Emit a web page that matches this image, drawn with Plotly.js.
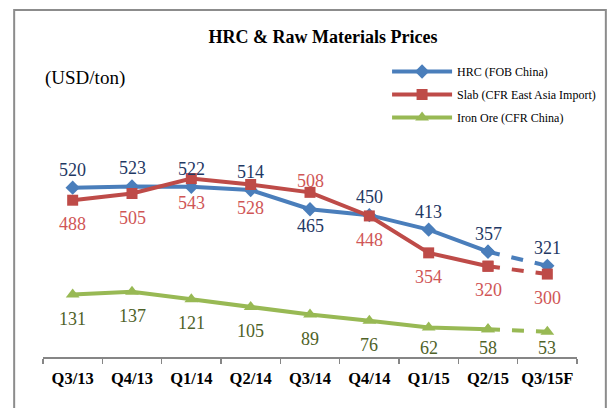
<!DOCTYPE html>
<html>
<head>
<meta charset="utf-8">
<script src="https://cdn.plot.ly/plotly-3.0.1.min.js"></script>
<style>html,body{margin:0;padding:0;background:#fff;}#chart{width:613px;height:408px;}</style>
</head>
<body>
<div id="chart"></div>
<script>
// ---- data ----
const quarters = ["Q3/13","Q4/13","Q1/14","Q2/14","Q3/14","Q4/14","Q1/15","Q2/15","Q3/15F"];
const hrc      = [520, 523, 522, 514, 465, 450, 413, 357, 321];
const slab     = [488, 505, 543, 528, 508, 448, 354, 320, 300];
const ironOre  = [131, 137, 121, 105, 89, 76, 62, 58, 53];
const seriesNames = ["HRC (FOB China)", "Slab (CFR East Asia Import)", "Iron Ore (CFR China)"];
const forecastFrom = 7; // index where the dashed forecast segment starts

// ---- layout geometry ----
const W = 613, H = 408;
const M = {l: 43, r: 33, t: 100, b: 51};
const plotH = H - M.t - M.b;
const y1Range = [89, 743];
const y2Range = [0, 539];
const font = "Liberation Serif, Times New Roman, serif";

const colors = {hrc: "#4A7EBB", slab: "#BE4B48", ore: "#98B954"};
const labelColors = {hrc: "#1F3864", slab: "#D05656", ore: "#4F6228"};

function pxPerUnit(r){ return plotH / (r[1] - r[0]); }
function valToPx(v, r){ return M.t + plotH - (v - r[0]) * pxPerUnit(r); }

function makeTraces(vals, name, color, symbol, size, axis, group){
  const solidX = quarters.slice(0, forecastFrom + 1);
  const solidY = vals.slice(0, forecastFrom + 1);
  const dashX = quarters.slice(forecastFrom);
  const dashY = vals.slice(forecastFrom);
  return [
    {x: solidX, y: solidY, name: name, type: "scatter", mode: "lines+markers",
     yaxis: axis, legendgroup: group, showlegend: true,
     line: {color: color, width: 4}, marker: {symbol: symbol, size: size, color: color},
     hoverinfo: "skip"},
    {x: dashX, y: dashY, name: name, type: "scatter", mode: "lines+markers",
     yaxis: axis, legendgroup: group, showlegend: false,
     line: {color: color, width: 4, dash: "dash"}, marker: {symbol: symbol, size: size, color: color},
     hoverinfo: "skip"}
  ];
}

const traces = [].concat(
  makeTraces(hrc, seriesNames[0], colors.hrc, "diamond", 11, "y", "g1"),
  makeTraces(slab, seriesNames[1], colors.slab, "square", 11, "y", "g2"),
  makeTraces(ironOre, seriesNames[2], colors.ore, "triangle-up", 12, "y2", "g3")
);

// ---- data labels ----
const annotations = [];
function addLabel(x, v, yref, color, shift){
  annotations.push({x: x, y: v, xref: "x", yref: yref, text: String(v), showarrow: false,
    font: {family: font, size: 18, color: color}, yshift: shift, xanchor: "center", yanchor: "middle"});
}
quarters.forEach((q, i) => {
  // HRC labels above, slab below, except at Q3/14 where the slab line sits above HRC
  const swap = (slab[i] > hrc[i]) && (i === 4);
  addLabel(q, hrc[i], "y", labelColors.hrc, swap ? -17 : 18);
  addLabel(q, slab[i], "y", labelColors.slab, swap ? 11 : -24);
  // iron ore labels below, kept inside the plot area
  const mk = valToPx(ironOre[i], y2Range);
  const labelPx = Math.min(mk + 24, 348);
  addLabel(q, ironOre[i], "y2", labelColors.ore, -(labelPx - mk));
});

annotations.push({xref: "paper", yref: "paper", x: 0, y: (H - M.b - 77.5) / plotH,
  xanchor: "left", yanchor: "middle", text: "(USD/ton)", showarrow: false,
  font: {family: font, size: 19, color: "#000"}});

// outer frame
const plotW = W - M.l - M.r;
const shapes = [{type: "rect", xref: "paper", yref: "paper",
  x0: (14 - M.l) / plotW, x1: (609 - M.l) / plotW,
  y0: (H - M.b - 430) / plotH, y1: (H - M.b - 10) / plotH,
  line: {color: "#8C8C8C", width: 2}, fillcolor: "rgba(0,0,0,0)", layer: "below"}];

const layout = {
  width: W, height: H,
  margin: M,
  paper_bgcolor: "#fff", plot_bgcolor: "#fff",
  font: {family: font, color: "#000"},
  title: {text: "<b>HRC & Raw Materials Prices</b>", x: 323 / W, xref: "container", xanchor: "center",
    y: 1 - 37 / H, yref: "container", yanchor: "middle", font: {family: font, size: 18, color: "#000"}},
  xaxis: {type: "category", range: [-0.5, quarters.length - 0.5], showgrid: false, zeroline: false,
    showline: true, linecolor: "#868686", linewidth: 1.5, ticks: "outside", ticklen: 5,
    tickcolor: "#868686", tickwidth: 1.5, tickson: "boundaries", ticklabelstandoff: 6,
    tickangle: 0, automargin: false,
    tickfont: {family: font, size: 16.5, color: "#000", weight: "bold"}, fixedrange: true},
  yaxis: {range: y1Range, visible: false, showgrid: false, zeroline: false, fixedrange: true},
  yaxis2: {range: y2Range, overlaying: "y", side: "right", visible: false, showgrid: false,
    zeroline: false, fixedrange: true},
  showlegend: true,
  legend: {x: (389 - M.l) / plotW, xanchor: "left", y: (H - M.b - 57) / plotH, yanchor: "top",
    bgcolor: "rgba(255,255,255,0)", font: {family: font, size: 12, color: "#000"},
    traceorder: "grouped", tracegroupgap: 4, itemwidth: 60},
  annotations: annotations,
  shapes: shapes
};

Plotly.newPlot("chart", traces, layout, {staticPlot: true, displayModeBar: false});
</script>
</body>
</html>
